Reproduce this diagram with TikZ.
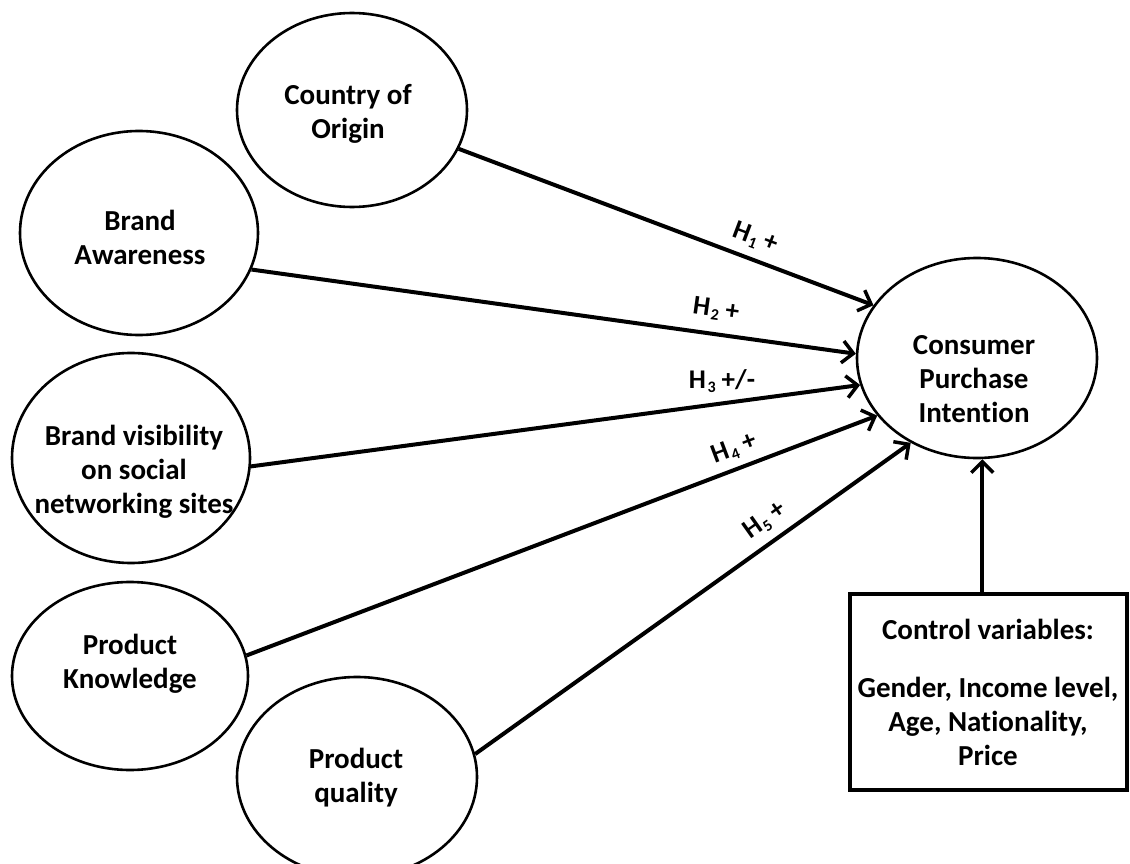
\documentclass[tikz,border=0pt]{standalone}
\usepackage{fontspec}
\setmainfont{Carlito}[Ligatures=NoCommon]
\usetikzlibrary{shapes.geometric,arrows.meta}
\newcommand{\hsub}[1]{\kern1.5pt\raisebox{-0.3ex}{\fontsize{16}{16}\selectfont #1}}
\begin{document}
\begin{tikzpicture}[x=1pt,y=-1pt,
  oval/.style={ellipse, draw, line width=2.6pt, inner sep=0pt},
  lbl/.style={font=\fontsize{29}{34}\selectfont\bfseries, align=center, inner sep=0pt},
  hyp/.style={font=\fontsize{27}{30}\selectfont\bfseries, inner sep=1pt},
  link/.style={line width=4pt, -{Straight Barb[length=11pt,width=22pt,line width=3.5pt]}},
  ctrlbox/.style={draw, line width=4pt, minimum width=277pt, minimum height=196pt,
    inner sep=0pt, font=\fontsize{29}{34}\selectfont\bfseries, align=center},
]
\useasboundingbox (0,0) rectangle (1130,864);

% constructs
\node[oval, minimum width=230pt, minimum height=194pt] (coo) at (352,110) {};
\node[oval, minimum width=238pt, minimum height=204pt] (bra) at (139,233) {};
\node[oval, minimum width=238pt, minimum height=210pt] (bvs) at (131,458) {};
\node[oval, minimum width=236pt, minimum height=188pt] (pk)  at (130,676) {};
\node[oval, minimum width=240pt, minimum height=200pt] (pq)  at (357,777) {};
\node[oval, minimum width=240pt, minimum height=200pt] (cpi) at (977,358) {};

% construct names
\node[lbl] (coo-t) at (348,114) {Country of\\Origin};
\node[lbl] (bra-t) at (140,237) {Brand\\Awareness};
\node[lbl] (bvs-t) at (134,472) {Brand visibility\\on social\\networking sites};
\node[lbl] (pk-t)  at (130,664) {Product\\Knowledge};
\node[lbl] (pq-t)  at (356,778) {Product\\quality};
\node[lbl] (cpi-t) at (974,379) {Consumer\\Purchase\\Intention};

% control variables
\node[ctrlbox] (ctrl) at (988,692) {Control variables:\\[24pt]Gender, Income level,\\Age, Nationality,\\Price};

% hypothesised paths
\draw[link] (coo.-20.3) -- (cpi.153);
\draw[link] (bra.-18.4) -- (cpi.178.5);
\draw[link] (bvs.-4.3)  -- (cpi.193.6);
\draw[link] (pk.10)     -- (cpi.210.5);
\draw[link] (pq.11.3)   -- (cpi.232.5);
\draw[link] (ctrl.north -| cpi.-87) -- (cpi.-87);

% path labels
\node[hyp, rotate=-20.6] (h1) at (755,238) {H\hsub{1} +};
\node[hyp, rotate=-7.9]  (h2) at (716,310) {H\hsub{2} +};
\node[hyp]               (h3) at (722,381) {H\hsub{3} +/-};
\node[hyp, rotate=20.7]  (h4) at (734,449) {H\hsub{4} +};
\node[hyp, rotate=35.3]  (h5) at (765,521) {H\hsub{5} +};
\end{tikzpicture}
\end{document}
